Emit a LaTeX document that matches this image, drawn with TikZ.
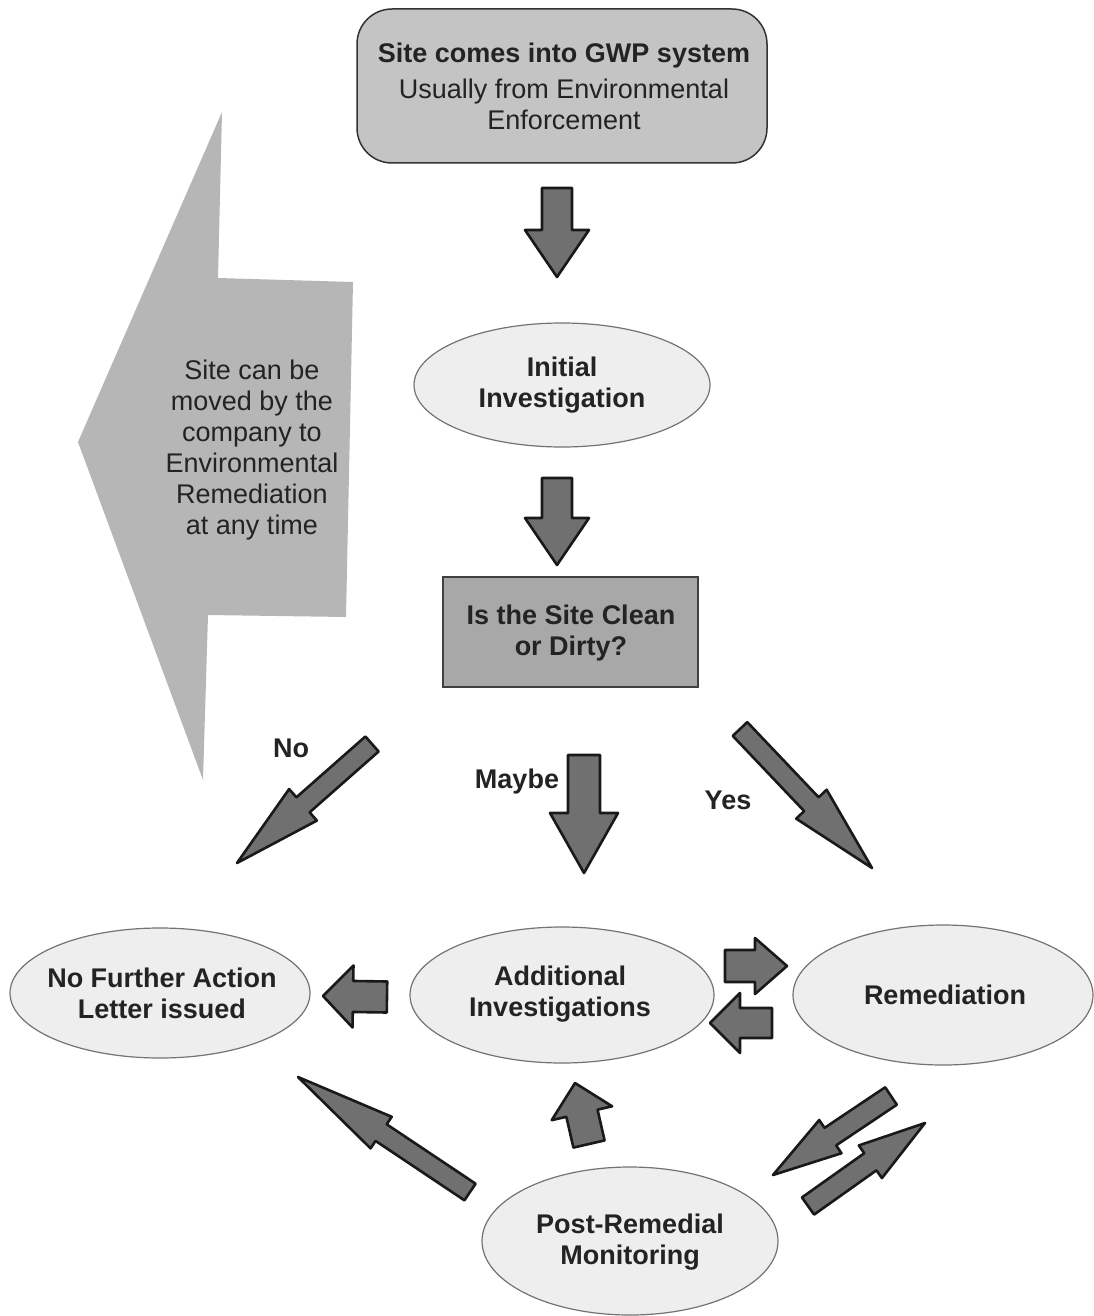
\documentclass[tikz,border=0pt]{standalone}
\usepackage{fontspec}
\setmainfont{Liberation Sans}
\usetikzlibrary{calc,shapes.geometric}
\definecolor{arrowgray}{RGB}{112,112,112}
\definecolor{boxgray}{RGB}{196,196,196}
\definecolor{rectgray}{RGB}{168,168,168}
\definecolor{biggray}{RGB}{182,182,182}
\definecolor{ellgray}{RGB}{238,238,238}
\definecolor{ink}{RGB}{35,35,35}
\newcommand{\blkarrow}[5]{% start, tip, shaft half-width, head half-width, head length
  \coordinate (ba-h) at ($(#2)!#5!(#1)$);
  \draw[blockarr] ($(#1)!#3!90:(#2)$) -- ($(ba-h)!#3!90:(#2)$) -- ($(ba-h)!#4!90:(#2)$) -- (#2)
    -- ($(ba-h)!#4!-90:(#2)$) -- ($(ba-h)!#3!-90:(#2)$) -- ($(#1)!#3!-90:(#2)$) -- cycle;
}
\begin{document}
\begin{tikzpicture}[x=1pt,y=-1pt,
  txt/.style={font=\fontsize{27}{31}\selectfont, text=ink, align=center, inner sep=0pt},
  btxt/.style={font=\fontsize{27}{31}\selectfont\bfseries, text=ink, align=center, inner sep=0pt},
  ell/.style={ellipse, draw=black!55, line width=1.2pt, fill=ellgray, inner sep=0pt},
  blockarr/.style={fill=arrowgray, draw=black!90, line width=2.6pt, line join=round}]
\useasboundingbox (0,0) rectangle (1093,1316);

% big left arrow
\fill[biggray] (222,112) -- (218,278) -- (353,282) -- (346,617) -- (208,615) -- (203,780) -- (78,442) -- cycle;
\node[txt] (movetxt) at (252,450) {Site can be\\moved by the\\company to\\Environmental\\Remediation\\at any time};

% shapes
\node[draw=black!80, line width=1.5pt, fill=boxgray, rounded corners=35pt, minimum width=410pt, minimum height=154pt, inner sep=0pt] (gwp) at (562,86) {};
\node[btxt] (gwpt1) at (564,56) {Site comes into GWP system};
\node[txt] (gwpt2) at (564,104) {Usually from Environmental\\Enforcement};

\node[ell, minimum width=296pt, minimum height=124pt] (init) at (562,385) {};
\node[btxt] (initt) at (562,385) {Initial\\Investigation};

\node[draw=black!75, line width=1.2pt, fill=rectgray, minimum width=255pt, minimum height=110pt, inner sep=0pt] (clean) at (570.5,632) {};
\node[btxt] (cleant) at (571,633.5) {Is the Site Clean\\or Dirty?};

\node[ell, minimum width=300pt, minimum height=130pt] (nfa) at (160,993) {};
\node[btxt] (nfat) at (162,993) {No Further Action\\Letter issued};

\node[ell, minimum width=304pt, minimum height=136pt] (addl) at (562,995) {};
\node[btxt] (addlt) at (560,994) {Additional\\Investigations};

\node[ell, minimum width=300pt, minimum height=140pt] (rem) at (943,995) {};
\node[btxt] (remt) at (945,995) {Remediation};

\node[ell, minimum width=296pt, minimum height=148pt] (prm) at (630,1241) {};
\node[btxt] (prmt) at (630,1242) {Post-Remedial\\Monitoring};

% labels
\node[btxt] (lno) at (291,748) {No};
\node[btxt] (lmaybe) at (517,782) {Maybe};
\node[btxt] (lyes) at (728,800) {Yes};

% arrow end points
\coordinate (a1s) at (557,188);  \coordinate (a1t) at (557,277);
\coordinate (a2s) at (557,478);  \coordinate (a2t) at (557,565);
\coordinate (ans) at (372,744);  \coordinate (ant) at (237,863);
\coordinate (ams) at (584,755);  \coordinate (amt) at (584,873);
\coordinate (ays) at (740,729);  \coordinate (ayt) at (872,868);
\coordinate (b1s) at (387,997);  \coordinate (b1t) at (323,996);
\coordinate (b2s) at (725,966);  \coordinate (b2t) at (787,966);
\coordinate (b3s) at (772,1023); \coordinate (b3t) at (710,1023);
\coordinate (b4s) at (589,1144); \coordinate (b4t) at (575,1083);
\coordinate (b5s) at (470,1192); \coordinate (b5t) at (298,1077);
\coordinate (b6s) at (891,1096); \coordinate (b6t) at (773,1175);
\coordinate (b7s) at (808,1206); \coordinate (b7t) at (925,1123);

\blkarrow{a1s}{a1t}{15pt}{32pt}{47pt}
\blkarrow{a2s}{a2t}{15pt}{32pt}{47pt}
\blkarrow{ans}{ant}{10pt}{21pt}{88pt}
\blkarrow{ams}{amt}{16pt}{34pt}{60pt}
\blkarrow{ays}{ayt}{10pt}{21pt}{88pt}
\blkarrow{b1s}{b1t}{15.5pt}{31pt}{30pt}
\blkarrow{b2s}{b2t}{16pt}{28pt}{32pt}
\blkarrow{b3s}{b3t}{15pt}{30pt}{30pt}
\blkarrow{b4s}{b4t}{16pt}{31pt}{31pt}
\blkarrow{b5s}{b5t}{10pt}{19pt}{100pt}
\blkarrow{b6s}{b6t}{10.5pt}{20pt}{69pt}
\blkarrow{b7s}{b7t}{10.5pt}{20pt}{67pt}
\end{tikzpicture}
\end{document}
